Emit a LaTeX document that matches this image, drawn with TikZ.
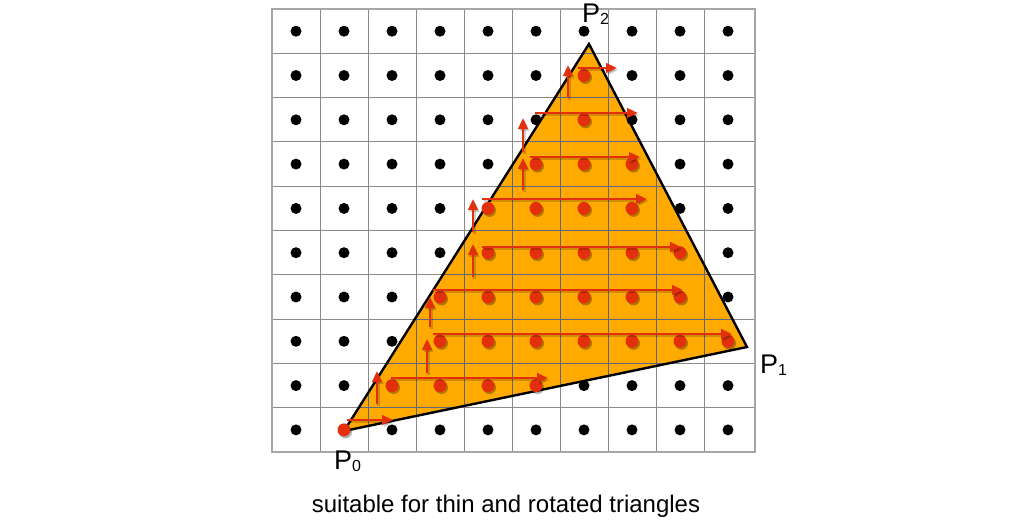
\documentclass[tikz,border=0pt]{standalone}
\usepackage{fontspec}
\setmainfont{Liberation Sans}
\usetikzlibrary{arrows.meta}
\definecolor{trifill}{HTML}{FFAA00}
\definecolor{scanred}{HTML}{E2300C}
\definecolor{gridgray}{HTML}{8A8A8A}
\definecolor{gridin}{HTML}{5E6680}
\newcommand\sublbl[1]{\raisebox{-2pt}{\fontsize{16}{16}\selectfont #1}}
\begin{document}
\begin{tikzpicture}[x=1pt,y=-1pt,
  gridline/.style={draw=gridgray, line width=1pt},
  gridinner/.style={draw=gridin, line width=1pt},
  border/.style={draw=black!35, line width=1.8pt},
  tri/.style={draw=black, line width=2.4pt, line join=miter},
  blackdot/.style={fill=black},
  reddot/.style={fill=scanred},
  shadow/.style={fill=black, opacity=0.3},
  scanarrow/.style={draw=scanred, line width=2.8pt, -{Triangle[length=11pt,width=9.5pt]}},
  shadowarrow/.style={draw=black, opacity=0.18, line width=2.8pt, -{Triangle[length=11pt,width=9.5pt]}},
  lbl/.style={font=\fontsize{27}{27}\selectfont, inner sep=0pt},
  caption/.style={font=\fontsize{24}{24}\selectfont, inner sep=0pt}
]
\useasboundingbox (0,0) rectangle (1010,522);
\fill[white] (0,0) rectangle (1010,522);

% triangle vertices
\coordinate (P0) at (344,431);
\coordinate (P1) at (747,347);
\coordinate (P2) at (589,44);

% triangle fill
\fill[trifill] (P0) -- (P1) -- (P2) -- cycle;

% grid lines
\foreach \k in {1,...,9} {
  \draw[gridline] ({272+48*\k},9) -- ({272+48*\k},452);
  \draw[gridline] (272,{9+44.3*\k}) -- (755,{9+44.3*\k});
}
\begin{scope}
  \clip (P0) -- (P1) -- (P2) -- cycle;
  \foreach \k in {1,...,9} {
    \draw[gridinner] ({272+48*\k},9) -- ({272+48*\k},452);
    \draw[gridinner] (272,{9+44.3*\k}) -- (755,{9+44.3*\k});
  }
\end{scope}
\draw[border] (272,9) rectangle (755,452);

% triangle outline
\draw[tri] (P0) -- (P1) -- (P2) -- cycle;

% black sample dots
\foreach \i in {0,...,9}
  \foreach \j in {0,...,9}
    \fill[blackdot] ({296+48*\i},{31.2+44.3*\j}) circle (5.5);

% red (covered) sample dots
\foreach \j/\i in {1/6, 2/6, 3/5, 3/6, 3/7, 4/4, 4/5, 4/6, 4/7,
                   5/4, 5/5, 5/6, 5/7, 5/8,
                   6/3, 6/4, 6/5, 6/6, 6/7, 6/8,
                   7/3, 7/4, 7/5, 7/6, 7/7, 7/8, 7/9,
                   8/2, 8/3, 8/4, 8/5, 9/1} {
  \fill[shadow] ({296+48*\i+1.5},{31.2+44.3*\j+2}) circle (6.5);
  \fill[reddot] ({296+48*\i},{31.2+44.3*\j}) circle (6.5);
}

% scanline arrows (horizontal)
\foreach \y/\a/\b in {420/347/393, 378/391/548, 334/433/732, 290/433/683,
                      247/482/681, 199/482/647, 157/530/640, 113/535/638, 68/578/617} {
  \draw[shadowarrow] (\a+1.5,\y+2) -- (\b+1.5,\y+2);
  \draw[scanarrow] (\a,\y) -- (\b,\y);
}
% step arrows (vertical)
\foreach \x/\a/\b in {377/404/371, 427/373/339, 430/327/297, 473/277/244,
                      473/232/199, 523/190/158, 523/152/118, 568/98/65} {
  \draw[shadowarrow] (\x+1.5,\a+2) -- (\x+1.5,\b+2);
  \draw[scanarrow] (\x,\a) -- (\x,\b);
}

% labels
\node[lbl, anchor=base west] (lp0) at (334,469) {P\sublbl{0}};
\node[lbl, anchor=base west] (lp1) at (760,373) {P\sublbl{1}};
\node[lbl, anchor=base west] (lp2) at (582,22) {P\sublbl{2}};
\node[caption, anchor=base] (cap) at (506,512) {suitable for thin and rotated triangles};
\end{tikzpicture}
\end{document}
